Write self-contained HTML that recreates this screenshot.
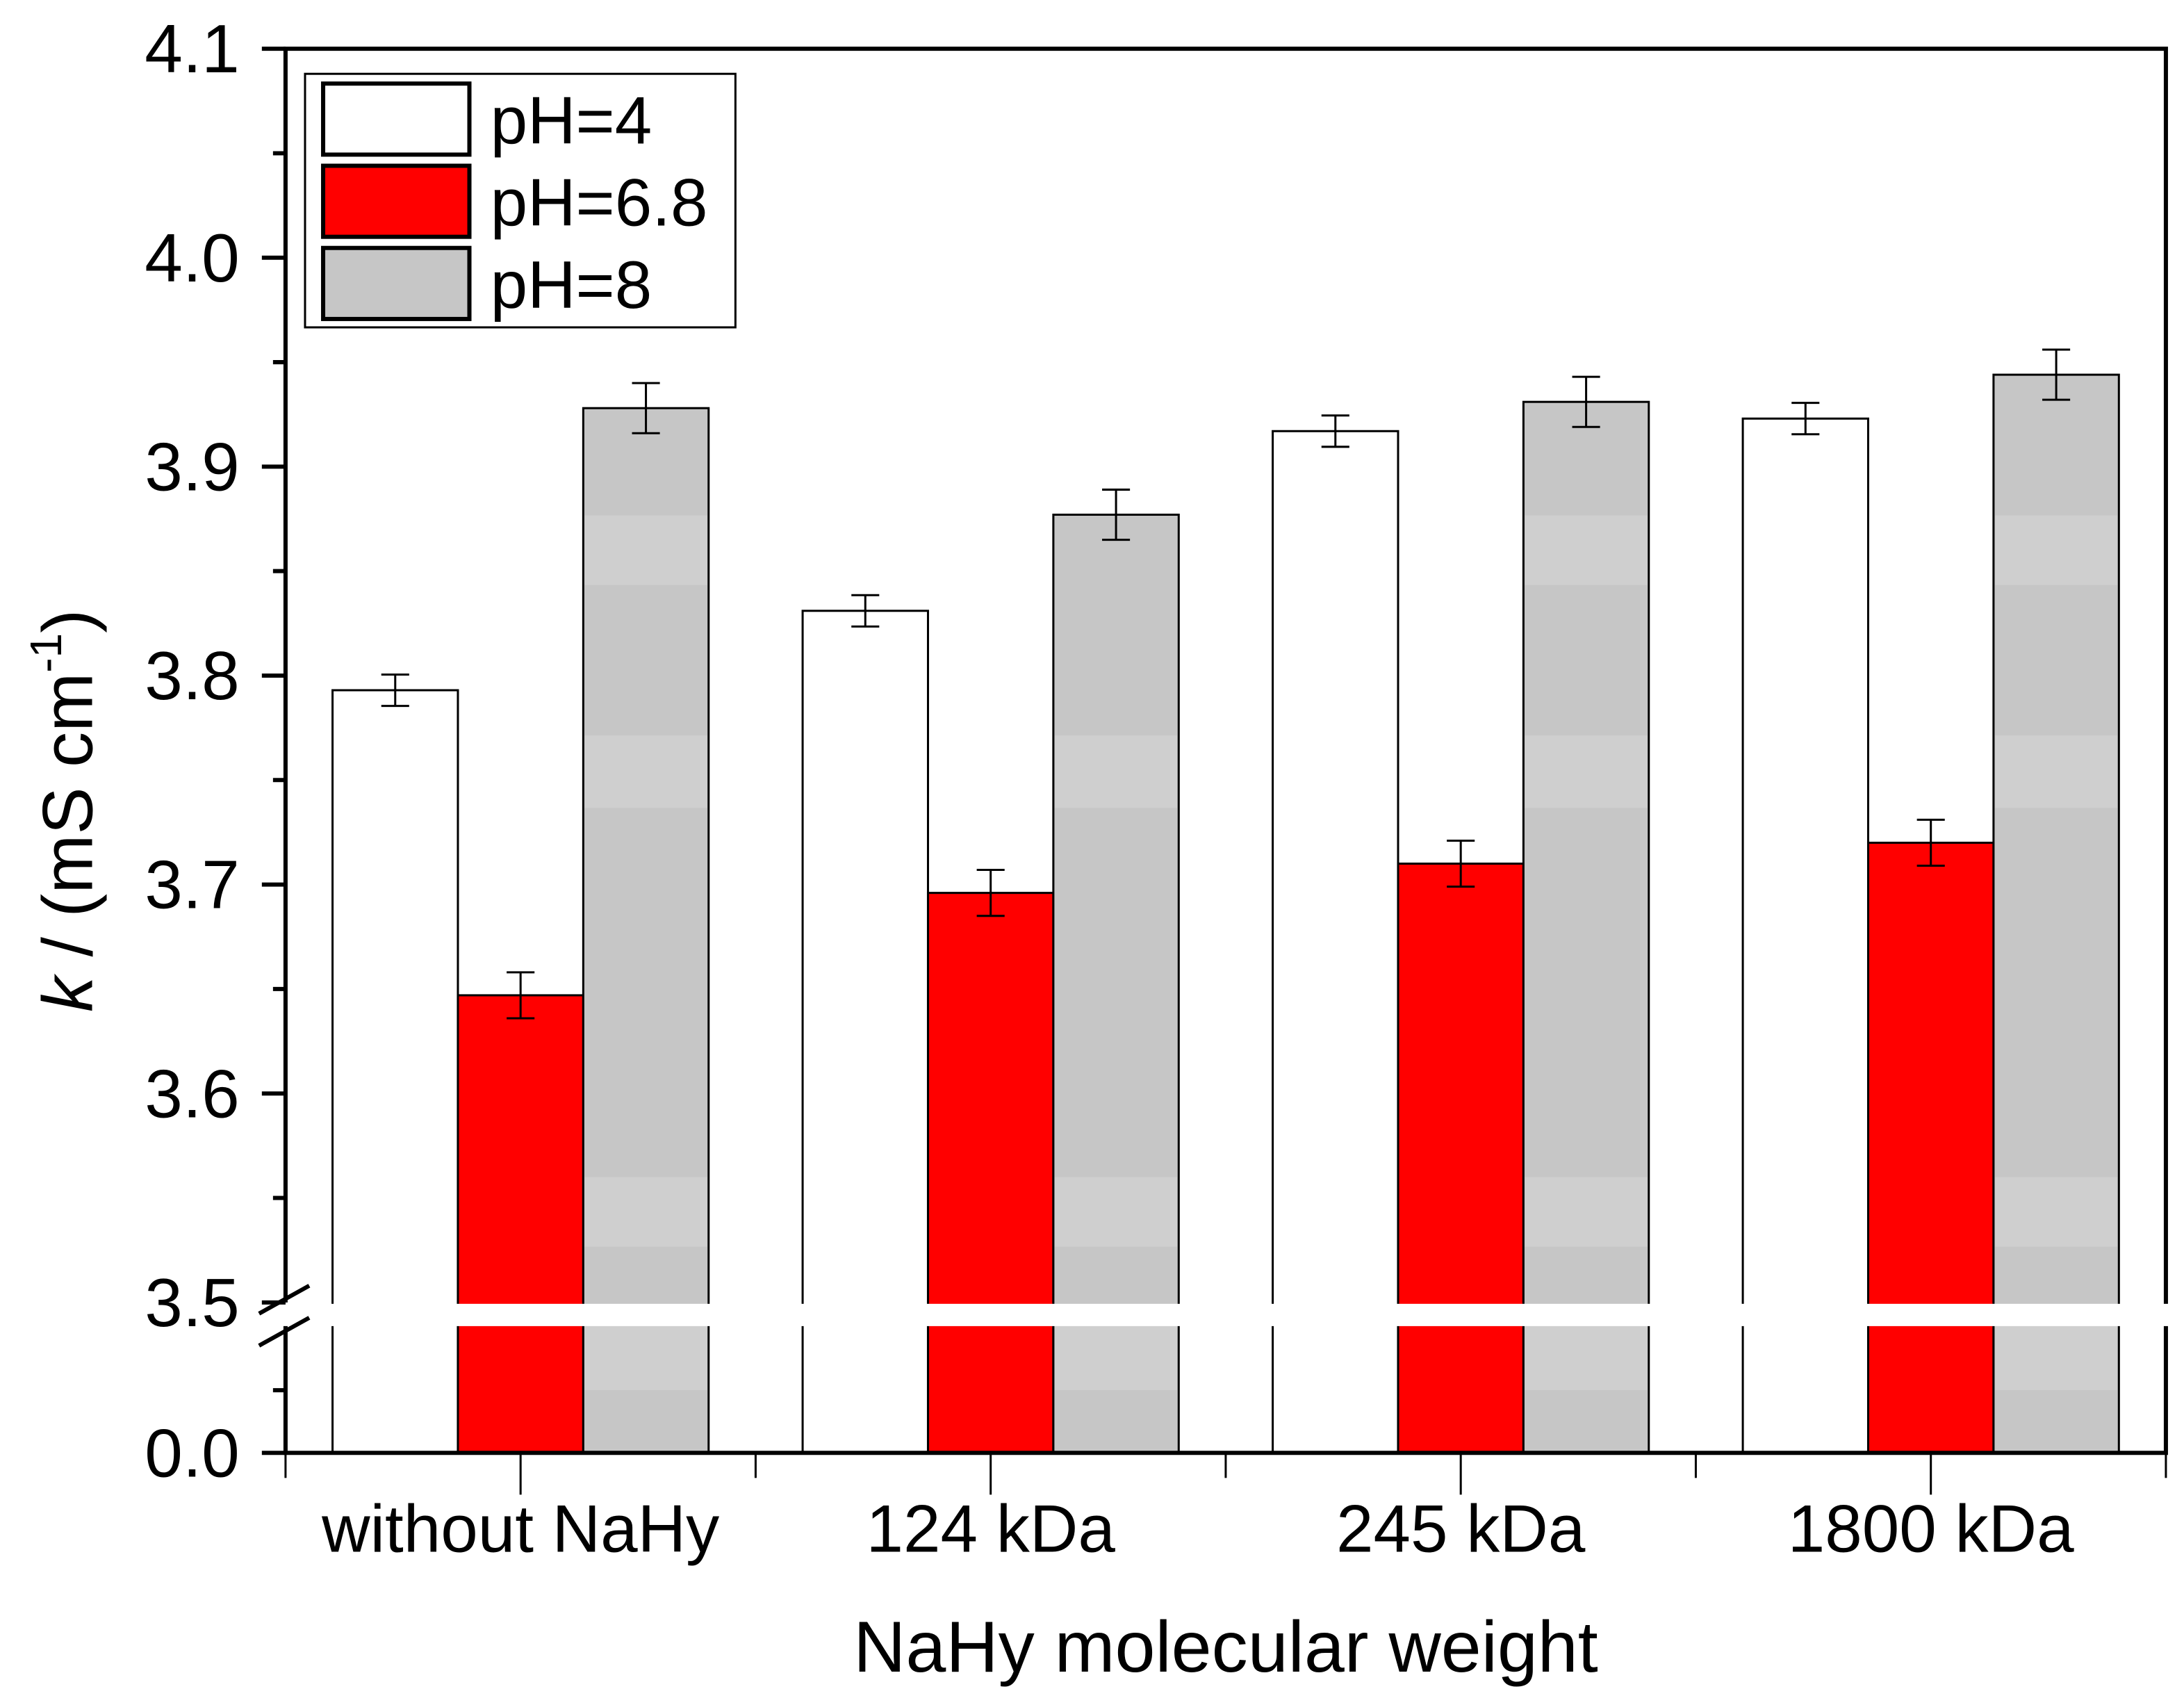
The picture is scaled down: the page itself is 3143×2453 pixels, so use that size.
<!DOCTYPE html>
<html><head><meta charset="utf-8"><style>
html,body{margin:0;padding:0;background:#fff}
svg{display:block}
text{font-family:"Liberation Sans",Arial,sans-serif;fill:#000}
</style></head><body>
<svg id="chart" width="3143" height="2453" viewBox="0 0 1568 1224" preserveAspectRatio="none" xmlns="http://www.w3.org/2000/svg">
<rect x="0" y="0" width="1568" height="1224" fill="#fff"/>
<g id="bars"></g>
<g id="axes"></g>
<g id="legend">
  <rect x="219" y="53" width="309" height="182" fill="#fff" stroke="#000" stroke-width="1.5"/>
  <rect x="232" y="60" width="105" height="51" fill="#fff" stroke="#000" stroke-width="3"/>
  <text x="352" y="103" font-size="48">pH=4</text>
  <rect x="232" y="119" width="105" height="51" fill="#ff0000" stroke="#000" stroke-width="3"/>
  <text x="352" y="162" font-size="48">pH=6.8</text>
  <rect x="232" y="178" width="105" height="51" fill="#c6c6c6" stroke="#000" stroke-width="3"/>
  <text x="352" y="221" font-size="48">pH=8</text>
</g>
<text x="880" y="1200" font-size="52" text-anchor="middle">NaHy molecular weight</text>
<text transform="translate(66,582) rotate(-90)" font-size="51" text-anchor="middle"><tspan font-style="italic">k</tspan> / (mS cm<tspan font-size="32" dy="-22">-1</tspan><tspan dy="22">)</tspan></text>
</svg>
<script>
const categories = ["without NaHy", "124 kDa", "245 kDa", "1800 kDa"];
const seriesNames = ["pH=4", "pH=6.8", "pH=8"];
const valuesPH4 = [3.793, 3.831, 3.917, 3.923];
const valuesPH68 = [3.647, 3.696, 3.710, 3.720];
const valuesPH8 = [3.928, 3.877, 3.931, 3.944];
const errPH4 = [0.0075, 0.0075, 0.0075, 0.0075];
const errPH68 = [0.011, 0.011, 0.011, 0.011];
const errPH8 = [0.012, 0.012, 0.012, 0.012];
const yTicks = [3.5, 3.6, 3.7, 3.8, 3.9, 4.0, 4.1];
const yTickLabels = ["3.5", "3.6", "3.7", "3.8", "3.9", "4.0", "4.1"];

const NS = "http://www.w3.org/2000/svg";
const L = 205, R = 1555, T = 35, B = 1043;
const breakTop = 935, breakBot = 952;
function y(v) { return 935 - (v - 3.5) * 1500; }
function groupX(i) { return L + (R - L) / categories.length * (i + 0.5); }
const barW = 90;
function mk(tag, attrs, parent) {
  const e = document.createElementNS(NS, tag);
  for (const k in attrs) e.setAttribute(k, attrs[k]);
  parent.appendChild(e);
  return e;
}
const barsG = document.getElementById('bars');
const axesG = document.getElementById('axes');
const series = [
  {vals: valuesPH4, err: errPH4, fill: "#ffffff", key: "ph4"},
  {vals: valuesPH68, err: errPH68, fill: "#ff0000", key: "ph6-8"},
  {vals: valuesPH8, err: errPH8, fill: "#c6c6c6", key: "ph8"}
];
categories.forEach((c, i) => {
  const cx = groupX(i);
  series.forEach((s, j) => {
    const x0 = cx - 1.5 * barW + j * barW;
    const top = y(s.vals[i]);
    const r = mk('rect', {x: x0, y: top, width: barW, height: B - top, fill: s.fill, stroke: '#000', 'stroke-width': 1.5}, barsG);
    
    
    if (s.key === 'ph8') {
      [[370, 420], [528, 580], [845, 895], [952, 998]].forEach(b => {
        if (b[0] > top + 2) {
          const band = mk('rect', {x: x0 + 1, y: b[0], width: barW - 2, height: b[1] - b[0], fill: '#cfcfcf'}, barsG);
          
          
        }
      });
    }
    const ex = x0 + barW / 2;
    const e1 = y(s.vals[i] + s.err[i]), e2 = y(s.vals[i] - s.err[i]);
    const eb = mk('path', {d: `M${ex},${e1}V${e2}M${ex - 10},${e1}H${ex + 10}M${ex - 10},${e2}H${ex + 10}`, stroke: '#000', 'stroke-width': 1.5, fill: 'none'}, barsG);
    
    
  });
  const lab = mk('text', {x: cx, y: 1114, 'font-size': 48, 'text-anchor': 'middle'}, axesG);
  lab.textContent = c;
  
  
  const tk = mk('line', {x1: cx, x2: cx, y1: B, y2: B + 30, stroke: '#000', 'stroke-width': 1.5}, axesG);
  
  
});
const gap = mk('rect', {x: L + 3, y: breakTop + 1, width: R - L - 6, height: breakBot - breakTop - 1, fill: '#fff'}, axesG);


for (let i = 0; i <= categories.length; i++) {
  const bx = L + (R - L) / categories.length * i;
  const t = mk('line', {x1: bx, x2: bx, y1: B, y2: B + 18, stroke: '#000', 'stroke-width': 1.5}, axesG);
  
  
}
const frame = mk('path', {d: `M${L},${breakTop}V${T}H${R}V${B}H${L}V${breakBot}`, stroke: '#000', 'stroke-width': 3, fill: 'none'}, axesG);


const rGap = mk('rect', {x: R - 3, y: breakTop + 1, width: 6, height: breakBot - breakTop - 1, fill: '#fff'}, axesG);


const brk = mk('path', {d: `M186,${breakTop + 8}L222,${breakTop - 12}M186,${breakBot + 14}L222,${breakBot - 6}`, stroke: '#000', 'stroke-width': 3, fill: 'none'}, axesG);


yTicks.forEach((v, i) => {
  const ty = y(v);
  const t = mk('line', {x1: L - 17, x2: L, y1: ty, y2: ty, stroke: '#000', 'stroke-width': 3}, axesG);
  
  
  const lab = mk('text', {x: 172, y: ty + 17, 'font-size': 49, 'text-anchor': 'end'}, axesG);
  lab.textContent = yTickLabels[i];
  
  
  if (i < yTicks.length - 1) {
    const my = y(v + 0.05);
    const m = mk('line', {x1: L - 9, x2: L, y1: my, y2: my, stroke: '#000', 'stroke-width': 3}, axesG);
    
    
  }
});
const z = mk('line', {x1: L - 17, x2: L, y1: B, y2: B, stroke: '#000', 'stroke-width': 3}, axesG);


const zm = mk('line', {x1: L - 9, x2: L, y1: 998, y2: 998, stroke: '#000', 'stroke-width': 3}, axesG);


const zl = mk('text', {x: 172, y: B + 17, 'font-size': 49, 'text-anchor': 'end'}, axesG);
zl.textContent = "0.0";


</script>
</body></html>
